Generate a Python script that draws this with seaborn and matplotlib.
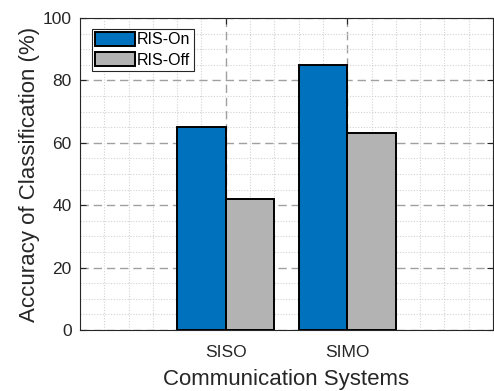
import matplotlib
matplotlib.use("Agg")
import matplotlib.pyplot as plt
from matplotlib.ticker import MultipleLocator, FixedLocator
import pandas as pd
import seaborn as sns

systems = ["SISO", "SIMO"]
conditions = ["RIS-On", "RIS-Off"]
ris_on = [65, 85]
ris_off = [42, 63]

df = pd.DataFrame({
    "system": systems * 2,
    "condition": [conditions[0]] * 2 + [conditions[1]] * 2,
    "accuracy": ris_on + ris_off,
})

sns.set_theme(style="white")
plt.rcParams["font.family"] = ["Liberation Sans", "DejaVu Sans"]

fig = plt.figure(figsize=(4.94, 3.91), dpi=100)
ax = fig.add_axes([80 / 494, 1 - 330 / 391, 413 / 494, 312 / 391])

sns.barplot(data=df, x="system", y="accuracy", hue="condition",
            palette=["#0072BD", "#B3B3B3"], width=0.8, errorbar=None,
            edgecolor="black", linewidth=1.4, saturation=1, ax=ax, zorder=3)

ax.set_xlim(-1.2, 2.2)
ax.set_ylim(0, 100)
ax.xaxis.set_major_locator(FixedLocator([0, 1]))
ax.set_xticklabels(systems)
ax.yaxis.set_major_locator(MultipleLocator(20))
ax.xaxis.set_minor_locator(MultipleLocator(0.2))
ax.yaxis.set_minor_locator(MultipleLocator(5))

ax.set_axisbelow(True)
ax.grid(which="major", color="#a0a0a0", linestyle=(0, (6, 3.5)), linewidth=1.0)
ax.grid(which="minor", color="#d2d2d2", linestyle=(0, (1, 1.5)), linewidth=0.8)

for s in ax.spines.values():
    s.set_color("#262626")
    s.set_linewidth(0.8)
    s.set_visible(True)

ax.tick_params(axis="both", which="major", direction="in", length=4, width=0.8,
               colors="#262626", labelsize=12.5, top=True, right=True,
               bottom=True, left=True, pad=6)
ax.tick_params(axis="x", which="major", pad=10.5)
ax.tick_params(axis="both", which="minor", length=0)

ax.set_xlabel("Communication Systems", fontsize=16, color="#262626", labelpad=7)
ax.set_ylabel("Accuracy of Classification (%)", fontsize=16, color="#262626", labelpad=2)

leg = ax.legend(loc="upper left", bbox_to_anchor=(0.028, 0.965), fontsize=11.5,
                frameon=True, fancybox=False, handlelength=2.5, handleheight=0.95,
                handletextpad=0.15, borderpad=0.2, labelspacing=0.3, borderaxespad=0)
leg.get_frame().set_edgecolor("#262626")
leg.get_frame().set_linewidth(0.8)
leg.get_frame().set_alpha(1)
for t in leg.get_texts():
    t.set_color("black")

fig.savefig("out.png", dpi=100)
